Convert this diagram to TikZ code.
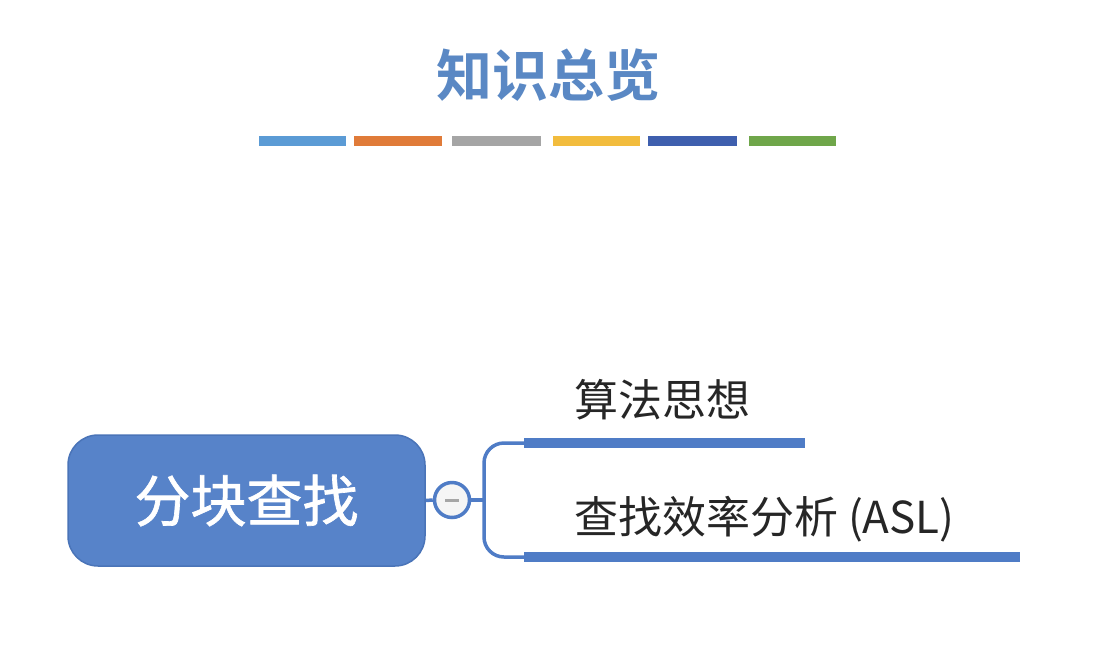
\documentclass[tikz,border=0pt]{standalone}
\usepackage{fontspec}
\newfontfamily\cjk{Noto Sans CJK SC}
\newfontfamily\cjkm[FakeBold=1.2]{Noto Sans CJK SC}
\newfontfamily\cjkb{Noto Sans CJK SC Bold}
\definecolor{ttl}{HTML}{5A88C4}
\definecolor{cb1}{HTML}{5B9BD5}
\definecolor{cb2}{HTML}{E07B39}
\definecolor{cb3}{HTML}{A5A5A5}
\definecolor{cb4}{HTML}{F2BC3D}
\definecolor{cb5}{HTML}{3E5FAE}
\definecolor{cb6}{HTML}{6FA64A}
\definecolor{mainfill}{HTML}{5783C9}
\definecolor{mainedge}{HTML}{4A74B8}
\definecolor{lnk}{HTML}{4F7CC6}
\tikzset{
  cbar/.style={line width=10pt},
  mainbox/.style={fill=mainfill,draw=mainedge,line width=1.5pt,rounded corners=30pt,minimum width=357pt,minimum height=131pt,text=white,font=\cjkm\fontsize{56}{60}\selectfont},
  togg/.style={circle,draw=lnk,line width=3.5pt,fill=gray!8,minimum size=35pt,inner sep=0pt},
  link/.style={draw=lnk,line width=3.5pt},
  branch/.style={draw=lnk,line width=10pt},
  lbl/.style={anchor=west,inner sep=0pt,text=black!85,font=\cjk\fontsize{44}{48}\selectfont}
}
\begin{document}
\begin{tikzpicture}[x=1pt,y=-1pt]
\useasboundingbox (0,0) rectangle (1097,651);
\fill[white] (0,0) rectangle (1097,651);
\node[text=ttl,font=\cjkb\fontsize{56}{60}\selectfont] (title) at (548,75) {知识总览};
\draw[cbar,cb1] (259,141) -- (346,141);
\draw[cbar,cb2] (354,141) -- (442,141);
\draw[cbar,cb3] (452,141) -- (541,141);
\draw[cbar,cb4] (553,141) -- (640,141);
\draw[cbar,cb5] (648,141) -- (737,141);
\draw[cbar,cb6] (749,141) -- (836,141);
\node[mainbox] (main) at (246.5,500.5) {分块查找};
\node[togg] (tg) at (452,500) {};
\draw[line width=3pt,gray!70] ([xshift=-7pt]tg.center) -- ([xshift=7pt]tg.center);
\coordinate (j) at (484,500);
\coordinate (b1s) at (524,443);
\coordinate (b1e) at (805,443);
\coordinate (b2s) at (524,557);
\coordinate (b2e) at (1020,557);
\draw[link] (main.east) -- (tg.west);
\draw[link] (tg.east) -- (j);
\draw[link,rounded corners=20pt] (b1s) -| (j) |- (b2s);
\draw[branch] (b1s) -- (b1e);
\draw[branch] (b2s) -- (b2e);
\node[lbl] (l1) at (574,400) {算法思想};
\node[lbl] (l2) at (574,519) {查找效率分析 (ASL)};
\end{tikzpicture}
\end{document}
